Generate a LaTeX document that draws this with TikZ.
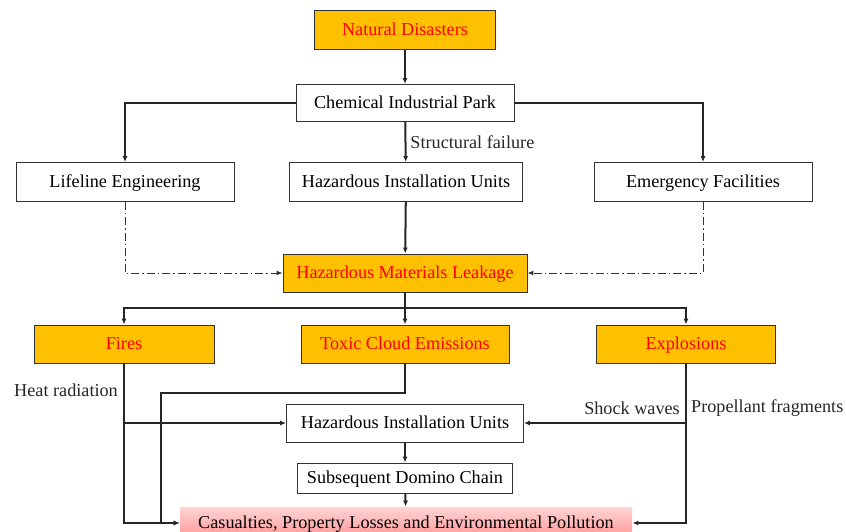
\documentclass[tikz,border=0pt]{standalone}
\usepackage{fontspec}
\setmainfont{Liberation Serif}
\usetikzlibrary{arrows.meta}
\definecolor{hazorange}{RGB}{255,192,0}
\tikzset{
	box/.style={draw=black!80, line width=0.9pt, fill=white, inner sep=0pt, text height=13pt, text depth=1.5pt, font=\fontsize{18.2}{22}\selectfont},
	hazbox/.style={box, fill=hazorange, text=red},
	arr/.style={-{Latex[length=6pt,width=5pt]}, line width=1.1pt, black!85},
	mainarr/.style={arr, line width=2pt},
	dashdot/.style={-{Latex[length=6pt,width=5pt]}, line width=1pt, black!80, dash pattern=on 8pt off 3pt on 1.5pt off 3pt},
	lbl/.style={inner sep=0pt, font=\fontsize{18.2}{22}\selectfont, text=black!85}
}

\begin{document}
\begin{tikzpicture}[x=1pt, y=-1pt]
	%%%%% START %%%%%
	\useasboundingbox (0, 0) rectangle (846, 532);
	
	\node[hazbox, minimum width=181, minimum height=39] (nat) at (405, 30) {Natural Disasters};
	\node[box, minimum width=218, minimum height=37] (park) at (405, 103) {Chemical Industrial Park};
	
	\node[box, minimum width=218, minimum height=39] (life) at (125, 182) {Lifeline Engineering};
	\node[box, minimum width=233, minimum height=39] (hiu) at (406, 182) {Hazardous Installation Units};
	\node[box, minimum width=218, minimum height=39] (emer) at (703, 182) {Emergency Facilities};
	
	\node[hazbox, minimum width=244, minimum height=38] (leak) at (405, 273) {Hazardous Materials Leakage};
	
	\node[hazbox, minimum width=180, minimum height=38] (fire) at (124, 344) {Fires};
	\node[hazbox, minimum width=208, minimum height=38] (toxic) at (405, 344) {Toxic Cloud Emissions};
	\node[hazbox, minimum width=179, minimum height=38] (expl) at (686, 344) {Explosions};
	
	\node[box, minimum width=237, minimum height=38] (hiub) at (405, 423) {Hazardous Installation Units};
	\node[box, minimum width=215, minimum height=30] (dom) at (405, 478) {Subsequent Domino Chain};
	\node[box, draw=none, top color={rgb,255:red,255;green,212;blue,212}, bottom color={rgb,255:red,255;green,150;blue,150}, minimum width=452, minimum height=32] (loss) at (406, 523) {Casualties, Property Losses and Environmental Pollution};
	
	% top part
	\draw[mainarr] (nat) -- (park);
	\draw[arr] (park.west) -| (life.north);
	\draw[arr] (park.east) -| (emer.north);
	\draw[mainarr] (park) -- (hiu) node[lbl, midway, right=4pt] {Structural failure};
	\draw[mainarr] (hiu) -- (leak);
	\draw[dashdot] (life.south) |- (leak.west);
	\draw[dashdot] (emer.south) |- (leak.east);
	
	% leakage split
	\coordinate (split) at (405, 308);
	\draw[mainarr] (leak) -- (toxic);
	\draw[arr] (split) -| (fire.north);
	\draw[arr] (split) -| (expl.north);
	
	% consequences
	\coordinate (tbend) at (161, 393);
	\draw[arr] (fire.south) |- (loss.west);
	\draw[arr] (fire.south |- hiub.west) -- (hiub.west);
	\draw[arr] (toxic.south) |- (tbend) |- (loss.west);
	\draw[arr] (expl.south) |- (loss.east);
	\draw[arr] (expl.south |- hiub.east) -- (hiub.east);
	\draw[mainarr] (hiub) -- (dom);
	\draw[mainarr] (dom) -- (loss);
	
	\node[lbl, anchor=east] (heat) at (118, 390) {Heat radiation};
	\node[lbl, anchor=east] (shock) at (680, 408) {Shock waves};
	\node[lbl, anchor=west] (prop) at (691, 408) {Propellant fragments};
	
	%%%%% END %%%%%
\end{tikzpicture}
\end{document}
